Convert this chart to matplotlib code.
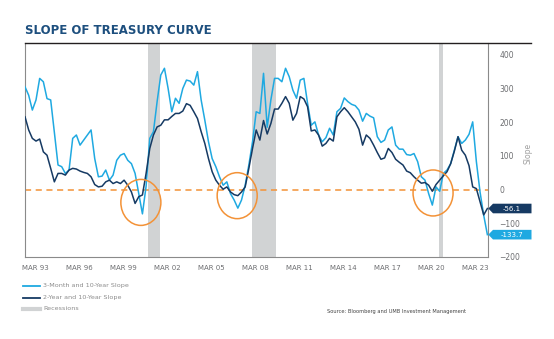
import matplotlib
matplotlib.use('Agg')
import matplotlib.pyplot as plt
from matplotlib.patches import Ellipse, Polygon
from matplotlib.lines import Line2D
from matplotlib.transforms import blended_transform_factory
import numpy as np

# Quarterly-ish readings, Mar 1993 -> Mar 2023 (basis points)
slope_3m10y = [
    305, 280, 236, 266, 330, 320, 270, 266, 170, 73,
    68, 48, 58, 152, 162, 132, 147, 162, 177, 92,
    38, 40, 58, 28, 43, 87, 102, 107, 87, 77,
    48, -12, -72, 10, 152, 172, 261, 340, 360, 300,
    231, 271, 256, 300, 325, 322, 310, 350, 266, 206,
    142, 92, 68, 38, 13, 23, -12, -31, -55, -31,
    13, 73, 142, 231, 226, 345, 185, 266, 330, 330,
    320, 360, 335, 295, 271, 325, 330, 256, 191, 201,
    162, 142, 154, 182, 162, 231, 241, 272, 261, 253,
    249, 236, 203, 226, 218, 213, 157, 140, 147, 177,
    186, 132, 120, 120, 104, 102, 107, 83, 38, 28,
    -12, -46, 8, -5, 48, 58, 77, 117, 157, 137,
    147, 164, 201, 83, -7, -76, -133.7,
]
slope_2y10y = [
    216, 177, 152, 144, 150, 112, 102, 63, 23, 48,
    48, 43, 58, 63, 61, 55, 51, 48, 38, 15,
    8, 10, 23, 28, 18, 23, 18, 28, 13, -7,
    -41, -21, -16, 48, 122, 162, 186, 191, 207, 207,
    217, 226, 226, 233, 255, 250, 231, 211, 172, 137,
    92, 53, 28, 13, 1, 8, -7, -15, -18, -7,
    8, 63, 122, 177, 147, 205, 165, 196, 239, 239,
    256, 276, 256, 206, 226, 276, 269, 246, 174, 177,
    162, 129, 137, 152, 144, 216, 231, 243, 231, 216,
    201, 179, 132, 162, 152, 132, 110, 90, 94, 122,
    110, 90, 81, 73, 55, 50, 38, 28, 19, 21,
    13, -5, 15, 28, 41, 53, 77, 114, 157, 117,
    102, 71, 8, 3, -36, -75, -56.1,
]
start_year, end_year = 1993.17, 2023.22

tick_labels = ['MAR 93', 'MAR 96', 'MAR 99', 'MAR 02', 'MAR 05', 'MAR 08',
               'MAR 11', 'MAR 14', 'MAR 17', 'MAR 20', 'MAR 23']
recessions = [(2001.17, 2001.92), (2007.92, 2009.50), (2020.08, 2020.33)]
inversion_marks = [(2000.70, -38), (2006.96, -18), (2019.69, -10)]

LIGHT = '#1fa9e1'
NAVY = '#163a63'
ORANGE = '#f39237'
REC = '#d1d3d4'
GREY_TXT = '#6d6e71'

W, H = 554, 339
fig = plt.figure(figsize=(W / 100, H / 100), dpi=100)
ax = fig.add_axes([25 / W, 82 / H, 463.3 / W, 214 / H])

years = np.linspace(start_year, end_year, len(slope_3m10y))

for a, b in recessions:
    ax.axvspan(a, b, color=REC, lw=0, zorder=0)

ax.axhline(0, color=ORANGE, lw=1.1, dashes=(4, 3), zorder=1)
ax.plot(years, slope_3m10y, color=LIGHT, lw=1.1, zorder=3)
ax.plot(years, slope_2y10y, color=NAVY, lw=1.1, zorder=4)

ax.set_xlim(1993.17, 2023.28)
ax.set_ylim(-200, 435)

# orange rings around the inversions
for cx, cy in inversion_marks:
    ax.add_patch(Ellipse((cx, cy), 40 / 15.38, 46 / 0.337, fill=False,
                         ec=ORANGE, lw=1.1, zorder=5))

tick_pos = [1993.82 + 2.861 * i for i in range(len(tick_labels))]
ax.set_xticks(tick_pos)
ax.set_xticklabels(tick_labels)
ax.yaxis.tick_right()
ax.set_yticks(range(-200, 401, 100))
ax.tick_params(axis='x', length=0, pad=6, labelsize=5, labelcolor=GREY_TXT)
ax.tick_params(axis='y', length=0, pad=8, labelsize=5.5, labelcolor=GREY_TXT)

for side in ('left', 'bottom', 'right'):
    ax.spines[side].set_color('#8a8a8a')
    ax.spines[side].set_linewidth(0.8)
ax.spines['top'].set_visible(False)

# dark rule across the top
fig.add_artist(Line2D([25 / W, 531 / W], [1 - 43 / H] * 2,
                      transform=fig.transFigure, color='#231f20', lw=1.0))

# value tags at the right edge
trans = blended_transform_factory(fig.transFigure, ax.transData)
half = 4.8 / 0.337
for series, col in ((slope_2y10y, NAVY), (slope_3m10y, LIGHT)):
    v = series[-1]
    pts = [(488.3 / W, v), (493 / W, v + half), (531.5 / W, v + half),
           (531.5 / W, v - half), (493 / W, v - half)]
    fig.add_artist(Polygon(pts, closed=True, transform=trans, fc=col,
                           ec='none', clip_on=False))
    fig.text(512 / W, v, f'{v:.1f}', transform=trans, ha='center',
             va='center', fontsize=5, color='white')

fig.text(25 / W, 1 - 30 / H, 'SLOPE OF TREASURY CURVE', fontsize=8.5,
         fontweight='bold', color='#1d4f7e', va='center')
fig.text(528 / W, 1 - 153 / H, 'Slope', rotation=90, fontsize=5.5,
         color='#a0a0a0', ha='center', va='center')

# legend
legend_rows = [(286, LIGHT, 1.3, '3-Month and 10-Year Slope'),
               (298, NAVY, 1.3, '2-Year and 10-Year Slope'),
               (309, REC, 3, 'Recessions')]
for y, col, lw, label in legend_rows:
    fig.add_artist(Line2D([23 / W, 40 / W], [1 - y / H] * 2,
                          transform=fig.transFigure, color=col, lw=lw))
    fig.text(43 / W, 1 - y / H, label, fontsize=4.6, color='#8c8c8c',
             va='center')

fig.text(327 / W, 1 - 312 / H, 'Source: Bloomberg and UMB Investment Management',
         fontsize=3.7, color='#444444', va='center')

fig.savefig('out.png', dpi=100)
